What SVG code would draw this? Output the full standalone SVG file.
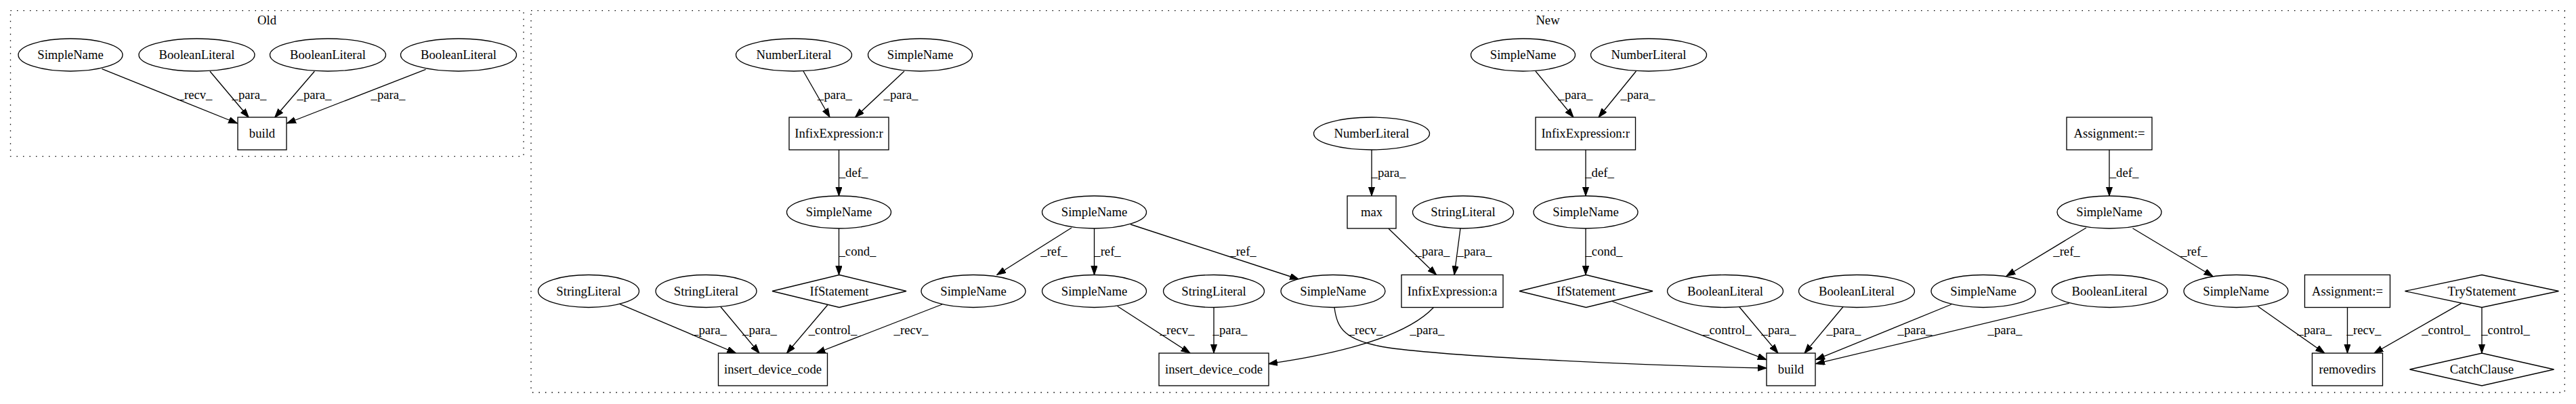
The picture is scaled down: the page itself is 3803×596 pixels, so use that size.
<svg xmlns="http://www.w3.org/2000/svg" width="3803" height="596" viewBox="0 0 3803 596">
<style>
text{font-family:"Liberation Serif","Times New Roman",serif;font-size:18.67px;fill:#000}
.n text,.c{text-anchor:middle}
.n ellipse,.n rect,.n polygon{fill:#fff;stroke:#000;stroke-width:1.33}
.e line,.e path{fill:none;stroke:#000;stroke-width:1.33;marker-end:url(#ah)}
.e text{text-anchor:middle}
.cl{fill:none;stroke:#000;stroke-width:1.33;stroke-dasharray:1.5,8}
</style>
<defs>
<marker id="ah" markerUnits="userSpaceOnUse" markerWidth="14" markerHeight="10" refX="13.3" refY="4.67" orient="auto">
<path d="M0,0 L13.3,4.67 L0,9.33 z" fill="#000" stroke="#000" stroke-width="1"/>
</marker>
</defs>
<rect width="3803" height="596" fill="#fff"/>
<g id="clusters">
<rect class="cl" x="15.5" y="15.7" width="757.5" height="215"/>
<text class="c" x="394" y="36">Old</text>
<rect class="cl" x="784" y="15.7" width="3002.3" height="563.3"/>
<text class="c" x="2285" y="36">New</text>
</g>
<g id="connectors" class="e">
<line x1="150.5" y1="101.7" x2="350.5" y2="182"/><text x="288" y="146">_recv_</text>
<line x1="310" y1="105.3" x2="367.3" y2="173.3"/><text x="368" y="146">_para_</text>
<line x1="464.3" y1="105.3" x2="405.6" y2="173.3"/><text x="464" y="146">_para_</text>
<line x1="628.6" y1="102.3" x2="423.5" y2="182"/><text x="573" y="146">_para_</text>
<line x1="1186" y1="105" x2="1225" y2="173"/><text x="1232.5" y="146">_para_</text>
<line x1="1335" y1="105" x2="1262.5" y2="173"/><text x="1330" y="146">_para_</text>
<line x1="1238.5" y1="221" x2="1238.5" y2="289"/><text x="1260" y="261">_def_</text>
<line x1="1238.5" y1="337" x2="1238.5" y2="405.5"/><text x="1266" y="377">_cond_</text>
<line x1="914.6" y1="448.3" x2="1086.5" y2="521"/><text x="1047.5" y="493">_para_</text>
<line x1="1063.6" y1="452.3" x2="1121" y2="521"/><text x="1121.5" y="493">_para_</text>
<line x1="1221.7" y1="450" x2="1161.5" y2="521"/><text x="1229.5" y="493">_control_</text>
<line x1="1391" y1="449" x2="1205" y2="521"/><text x="1345" y="493">_recv_</text>
<line x1="1582" y1="336" x2="1471.7" y2="405.5"/><text x="1556" y="377">_ref_</text>
<line x1="1615.5" y1="337" x2="1615.5" y2="405.5"/><text x="1635" y="377">_ref_</text>
<line x1="1669" y1="331" x2="1917.5" y2="412"/><text x="1835" y="377">_ref_</text>
<line x1="1649.7" y1="451.7" x2="1757" y2="521"/><text x="1738" y="493">_recv_</text>
<line x1="1792" y1="453.5" x2="1792" y2="521"/><text x="1816" y="493">_para_</text>
<path d="M1970,453.5 C1974,485 1985,503 2050,513 C2150,527 2450,540 2608,543"/><text x="2016" y="493">_recv_</text>
<path d="M2116.5,453.5 C2085,487 2010,517 1872.6,536.7"/><text x="2107" y="493">_para_</text>
<line x1="2025" y1="221" x2="2025" y2="289"/><text x="2050" y="261">_para_</text>
<line x1="2050" y1="337.3" x2="2120.6" y2="405.5"/><text x="2115" y="377">_para_</text>
<line x1="2156" y1="337" x2="2147" y2="405.5"/><text x="2177" y="377">_para_</text>
<line x1="2267" y1="105" x2="2323" y2="173"/><text x="2326" y="146">_para_</text>
<line x1="2415.4" y1="105" x2="2360" y2="173"/><text x="2418" y="146">_para_</text>
<line x1="2341" y1="221" x2="2341" y2="289"/><text x="2361.5" y="261">_def_</text>
<line x1="2341" y1="337" x2="2341" y2="405.5"/><text x="2368" y="377">_cond_</text>
<line x1="2378.7" y1="444" x2="2608" y2="530.7"/><text x="2550" y="493">_control_</text>
<line x1="2567.4" y1="452.3" x2="2625" y2="521"/><text x="2626" y="493">_para_</text>
<line x1="2721.5" y1="452" x2="2664" y2="521"/><text x="2722" y="493">_para_</text>
<line x1="2881" y1="449" x2="2680.7" y2="530.7"/><text x="2827" y="493">_para_</text>
<line x1="3054.7" y1="447.3" x2="2680.7" y2="536.7"/><text x="2960" y="493">_para_</text>
<line x1="3114" y1="221" x2="3114" y2="289"/><text x="3136" y="261">_def_</text>
<line x1="3080" y1="336" x2="2962" y2="407.3"/><text x="3051" y="377">_ref_</text>
<line x1="3148.5" y1="336.7" x2="3267" y2="407.7"/><text x="3239" y="377">_ref_</text>
<line x1="3333.4" y1="452" x2="3431.8" y2="521"/><text x="3417" y="493">_para_</text>
<line x1="3465.5" y1="453.5" x2="3465.5" y2="521"/><text x="3490" y="493">_recv_</text>
<line x1="3635" y1="446.7" x2="3505" y2="521"/><text x="3611" y="493">_control_</text>
<line x1="3664" y1="453.5" x2="3664" y2="521"/><text x="3699" y="493">_control_</text>
</g>
<g class="n">
<g id="old_sn"><ellipse cx="104" cy="81" rx="77" ry="24"/><text x="104" y="87">SimpleName</text></g>
<g id="old_bl1"><ellipse cx="290.5" cy="81" rx="85.5" ry="24"/><text x="290.5" y="87">BooleanLiteral</text></g>
<g id="old_bl2"><ellipse cx="484" cy="81" rx="85.5" ry="24"/><text x="484" y="87">BooleanLiteral</text></g>
<g id="old_bl3"><ellipse cx="677" cy="81" rx="85.5" ry="24"/><text x="677" y="87">BooleanLiteral</text></g>
<g id="old_build"><rect x="351" y="173" width="72" height="48"/><text x="387" y="203">build</text></g>

<g id="n_num1"><ellipse cx="1172" cy="81" rx="85.5" ry="24"/><text x="1172" y="87">NumberLiteral</text></g>
<g id="n_sn1"><ellipse cx="1358.5" cy="81" rx="77" ry="24"/><text x="1358.5" y="87">SimpleName</text></g>
<g id="n_sn2"><ellipse cx="2248.5" cy="81" rx="77" ry="24"/><text x="2248.5" y="87">SimpleName</text></g>
<g id="n_num2"><ellipse cx="2434" cy="81" rx="85.5" ry="24"/><text x="2434" y="87">NumberLiteral</text></g>

<g id="n_infr1"><rect x="1165" y="173" width="147" height="48"/><text x="1238.5" y="203">InfixExpression:r</text></g>
<g id="n_num3"><ellipse cx="2025" cy="197" rx="85.5" ry="24"/><text x="2025" y="203">NumberLiteral</text></g>
<g id="n_infr2"><rect x="2267" y="173" width="147.5" height="48"/><text x="2340.7" y="203">InfixExpression:r</text></g>
<g id="n_asg1"><rect x="3051" y="173" width="126" height="48"/><text x="3114" y="203">Assignment:=</text></g>

<g id="n_sn3"><ellipse cx="1238.5" cy="313" rx="77" ry="24"/><text x="1238.5" y="319">SimpleName</text></g>
<g id="n_sn4"><ellipse cx="1615.5" cy="313" rx="77" ry="24"/><text x="1615.5" y="319">SimpleName</text></g>
<g id="n_max"><rect x="1989" y="289" width="72" height="48"/><text x="2025" y="319">max</text></g>
<g id="n_str1"><ellipse cx="2160" cy="313" rx="74.5" ry="24"/><text x="2160" y="319">StringLiteral</text></g>
<g id="n_sn5"><ellipse cx="2341" cy="313" rx="77" ry="24"/><text x="2341" y="319">SimpleName</text></g>
<g id="n_sn6"><ellipse cx="3114" cy="313" rx="77" ry="24"/><text x="3114" y="319">SimpleName</text></g>

<g id="n_str2"><ellipse cx="869" cy="429.5" rx="74.5" ry="24"/><text x="869" y="435.5">StringLiteral</text></g>
<g id="n_str3"><ellipse cx="1042.5" cy="429.5" rx="74.5" ry="24"/><text x="1042.5" y="435.5">StringLiteral</text></g>
<g id="n_if1"><polygon points="1239,405.5 1338,429.5 1239,453.5 1140,429.5"/><text x="1239" y="435.5">IfStatement</text></g>
<g id="n_sn7"><ellipse cx="1437" cy="429.5" rx="77" ry="24"/><text x="1437" y="435.5">SimpleName</text></g>
<g id="n_sn8"><ellipse cx="1615.5" cy="429.5" rx="77" ry="24"/><text x="1615.5" y="435.5">SimpleName</text></g>
<g id="n_str4"><ellipse cx="1792" cy="429.5" rx="74.5" ry="24"/><text x="1792" y="435.5">StringLiteral</text></g>
<g id="n_sn9"><ellipse cx="1968" cy="429.5" rx="77" ry="24"/><text x="1968" y="435.5">SimpleName</text></g>
<g id="n_infa"><rect x="2069" y="405.5" width="150" height="48"/><text x="2144" y="435.5">InfixExpression:a</text></g>
<g id="n_if2"><polygon points="2341.5,405.5 2440,429.5 2341.5,453.5 2243,429.5"/><text x="2341.5" y="435.5">IfStatement</text></g>
<g id="n_bl1"><ellipse cx="2547" cy="429.5" rx="85.5" ry="24"/><text x="2547" y="435.5">BooleanLiteral</text></g>
<g id="n_bl2"><ellipse cx="2741" cy="429.5" rx="85.5" ry="24"/><text x="2741" y="435.5">BooleanLiteral</text></g>
<g id="n_sn10"><ellipse cx="2928" cy="429.5" rx="77" ry="24"/><text x="2928" y="435.5">SimpleName</text></g>
<g id="n_bl3"><ellipse cx="3114.5" cy="429.5" rx="85.5" ry="24"/><text x="3114.5" y="435.5">BooleanLiteral</text></g>
<g id="n_sn11"><ellipse cx="3301" cy="429.5" rx="77" ry="24"/><text x="3301" y="435.5">SimpleName</text></g>
<g id="n_asg2"><rect x="3402.5" y="405.5" width="126" height="48"/><text x="3465.5" y="435.5">Assignment:=</text></g>
<g id="n_try"><polygon points="3664,405.5 3777.5,429.5 3664,453.5 3550.5,429.5"/><text x="3664" y="435.5">TryStatement</text></g>

<g id="n_idc1"><rect x="1060.5" y="521" width="161" height="48"/><text x="1141" y="551">insert_device_code</text></g>
<g id="n_idc2"><rect x="1711" y="521" width="162" height="48"/><text x="1792" y="551">insert_device_code</text></g>
<g id="n_build"><rect x="2608" y="521" width="72" height="48"/><text x="2644" y="551">build</text></g>
<g id="n_rmd"><rect x="3413.5" y="521" width="104" height="48"/><text x="3465.5" y="551">removedirs</text></g>
<g id="n_catch"><polygon points="3664,521 3770.5,545 3664,569 3557.5,545"/><text x="3664" y="551">CatchClause</text></g>
</g>
</svg>
